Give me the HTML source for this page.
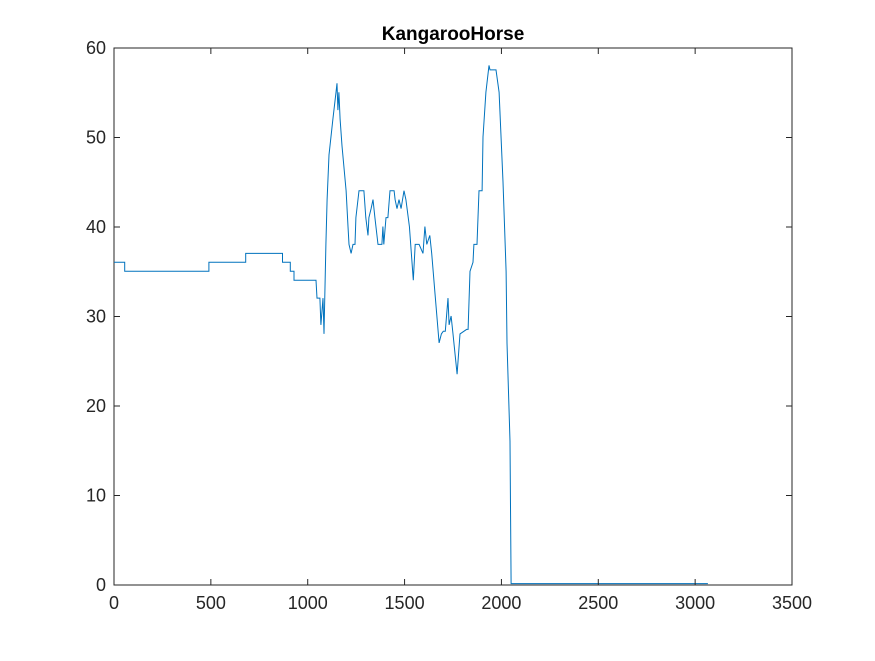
<!DOCTYPE html>
<html><head><meta charset="utf-8"><style>
body{margin:0;background:#fff;}
svg text{font-family:"Liberation Sans",Arial,sans-serif;}
</style></head><body>
<svg id="chart" width="875" height="656" xmlns="http://www.w3.org/2000/svg">
<rect width="875" height="656" fill="#fff"/>
<g id="axes"></g>
</svg>
<script>
const xTicks=[0,500,1000,1500,2000,2500,3000,3500];
const yTicks=[0,10,20,30,40,50,60];
const xs=[0,55,55,490,490,680,680,870,870,910,910,929,929,1043,1048,1063,1068,1079,1084,1094,1100,1110,1130,1146,1151,1156,1161,1167,1177,1198,1208,1213,1224,1234,1244,1249,1265,1290,1300,1311,1316,1327,1337,1347,1363,1383,1388,1393,1404,1414,1425,1446,1451,1461,1471,1482,1497,1507,1525,1545,1555,1575,1595,1605,1615,1630,1640,1657,1678,1690,1700,1710,1724,1730,1740,1750,1771,1786,1820,1828,1838,1853,1858,1874,1884,1900,1905,1920,1936,1941,1972,1988,2008,2024,2029,2044,2050,3066];
const ys=[36,36,35,35,36,36,37,37,36,36,35,35,34,34,32,32,29,32,28,38,43,48,52,55,56,53,55,52,49,44,40,38,37,38,38,41,44,44,41,39,41,42,43,41,38,38,40,38,41,41,44,44,43,42,43,42,44,43,40,34,38,38,37,40,38,39,37,32.5,27,28,28.3,28.3,32,29,30,28,23.5,28,28.5,28.5,35,36,38,38,44,44,50,55,58,57.5,57.5,55,45,35,27,16,0.1,0.1];
const L=114,R=792,T=48,B=585,xmax=3500,ymax=60;
const sx=v=>L+(R-L)*v/xmax, sy=v=>B-(B-T)*v/ymax;
const g=document.getElementById('axes');
const NS='http://www.w3.org/2000/svg';
function mk(t,a){const e=document.createElementNS(NS,t);for(const k in a)e.setAttribute(k,a[k]);g.appendChild(e);return e;}
const box=mk('rect',{x:L,y:T,width:R-L,height:B-T,fill:'none',stroke:'#262626','stroke-width':1});


let d='';xs.forEach((x,i)=>{d+=(i?'L':'M')+sx(x).toFixed(1)+','+(sy(ys[i])-0.5).toFixed(1);});
const line=mk('path',{d:d,fill:'none',stroke:'#0072BD','stroke-width':1});


xTicks.forEach(v=>{const x=sx(v);
mk('line',{x1:x,y1:B,x2:x,y2:B-6,stroke:'#262626'});mk('line',{x1:x,y1:T,x2:x,y2:T+6,stroke:'#262626'});
const t=mk('text',{x:x,y:B+24,'text-anchor':'middle','font-size':18,fill:'#262626'});t.textContent=v;

});
yTicks.forEach(v=>{const y=sy(v);
mk('line',{x1:L,y1:y,x2:L+6,y2:y,stroke:'#262626'});mk('line',{x1:R,y1:y,x2:R-6,y2:y,stroke:'#262626'});
const t=mk('text',{x:L-8,y:y+6,'text-anchor':'end','font-size':18,fill:'#262626'});t.textContent=v;

});
const ti=mk('text',{x:(L+R)/2,y:40,'text-anchor':'middle','font-size':19,'font-weight':'bold',fill:'#000'});ti.textContent='KangarooHorse';


</script>
</body></html>
